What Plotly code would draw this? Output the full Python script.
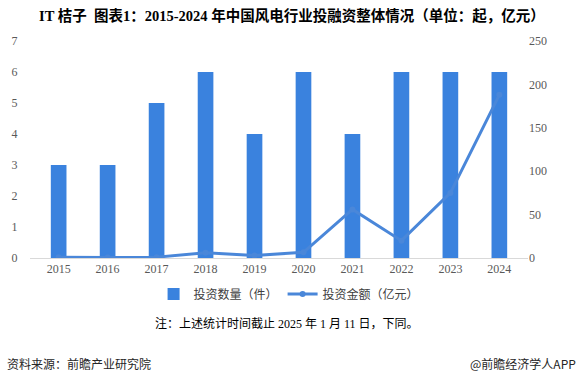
import plotly.graph_objects as go

years = ["2015", "2016", "2017", "2018", "2019", "2020", "2021", "2022", "2023", "2024"]
counts = [3, 3, 5, 6, 4, 6, 4, 6, 6, 6]
amounts = [1, 0.5, 1, 6, 3, 6.5, 56, 20, 75, 188]

left_ticks = [0, 1, 2, 3, 4, 5, 6, 7]
right_ticks = [0, 50, 100, 150, 200, 250]

title = "IT 桔子\u00a0 图表1：2015-2024 年中国风电行业投融资整体情况（单位：起，亿元）"
note = "注：上述统计时间截止 2025 年 1 月 11 日，下同。"
source = "资料来源：前瞻产业研究院"
brand = "@前瞻经济学人APP"

bar_color = "#3a82de"
line_color = "#4a87d9"
tick_font = dict(family="Liberation Serif, Noto Sans CJK SC", size=12, color="#595959")
cjk = "Liberation Serif, Noto Sans CJK SC"

L, R, T, B = 30, 528, 41, 258


def px_x(px):
    return (px - L) / (R - L)


def px_y(py):
    return (B - py) / (B - T)


fig = go.Figure()
fig.add_trace(go.Bar(
    x=years, y=counts, name="投资数量（件）",
    marker=dict(color=bar_color, line=dict(width=0)),
    yaxis="y",
))
fig.add_trace(go.Scatter(
    x=years, y=amounts, name="投资金额（亿元）", mode="lines+markers",
    line=dict(color=line_color, width=3),
    marker=dict(color=line_color, size=6),
    yaxis="y2",
))

fig.update_layout(
    width=584, height=374,
    margin=dict(l=L, r=584 - R, t=T, b=374 - B, autoexpand=False),
    paper_bgcolor="white", plot_bgcolor="white",
    bargap=0.68,
    showlegend=True,
    legend=dict(
        orientation="h", xref="container", yref="container",
        x=0.495, xanchor="center", y=1 - 294 / 374, yanchor="middle",
        font=dict(family="Noto Sans CJK SC", size=12, color="#404040"),
        traceorder="normal",
    ),
    xaxis=dict(
        type="category", tickfont=tick_font, showgrid=False, automargin=False,
        showline=True, linecolor="#d9d9d9", linewidth=1, ticks="",
    ),
    yaxis=dict(
        range=[0, 7], tickvals=left_ticks, tickfont=tick_font, automargin=False,
        showgrid=False, zeroline=False, showline=False,
        ticks="outside", ticklen=9, tickcolor="rgba(0,0,0,0)",
    ),
    yaxis2=dict(
        range=[0, 250], tickvals=right_ticks, tickfont=tick_font, automargin=False,
        overlaying="y", side="right", showgrid=False, zeroline=False, showline=False,
    ),
    annotations=[
        dict(text="<b>" + title + "</b>", xref="paper", yref="paper",
             x=px_x(292), y=px_y(15), xanchor="center", yanchor="middle", showarrow=False,
             font=dict(family=cjk, size=14.5, color="#000000")),
        dict(text=note, xref="paper", yref="paper",
             x=px_x(287), y=px_y(323), xanchor="center", yanchor="middle", showarrow=False,
             font=dict(family=cjk, size=12, color="#000000")),
        dict(text=source, xref="paper", yref="paper",
             x=px_x(5), y=px_y(363), xanchor="left", yanchor="middle", showarrow=False,
             font=dict(family="Noto Sans CJK SC", size=12, color="#262626")),
        dict(text=brand, xref="paper", yref="paper",
             x=px_x(578), y=px_y(363), xanchor="right", yanchor="middle", showarrow=False,
             font=dict(family="Noto Sans CJK SC", size=12, color="#262626")),
    ],
)

fig.write_html(
    "out.html",
    config={"displayModeBar": False},
    post_script="document.body.style.margin='0';document.body.style.padding='0';",
)
